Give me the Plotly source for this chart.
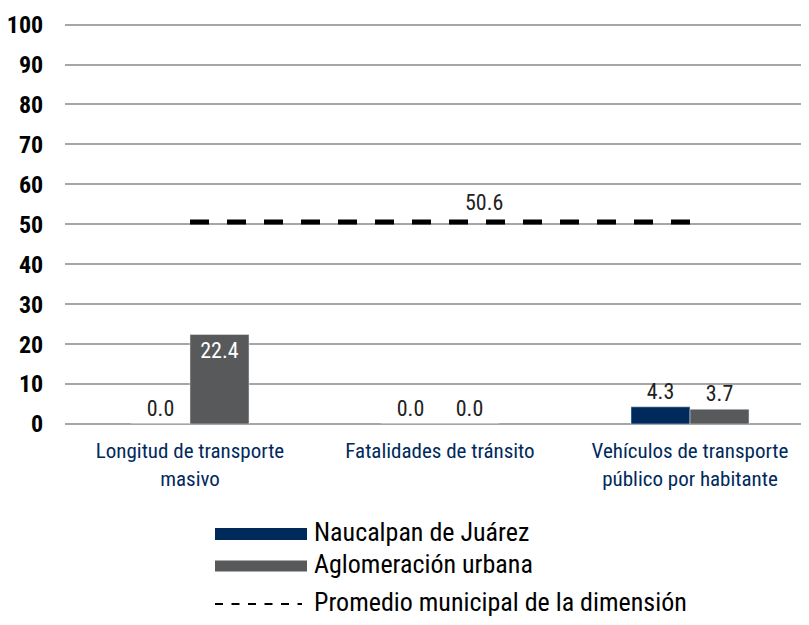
import plotly.graph_objects as go

categories = ["Longitud de transporte<br>masivo", "Fatalidades de tránsito", "Vehículos de transporte<br>público por habitante"]
naucalpan = [0.0, 0.0, 4.3]
aglomeracion = [22.4, 0.0, 3.7]
promedio = 50.6
series_names = ["Naucalpan de Juárez", "Aglomeración urbana", "Promedio municipal de la dimensión"]
y_ticks = [0, 10, 20, 30, 40, 50, 60, 70, 80, 90, 100]

NAVY = "#002a5c"
GRAY = "#58595b"
FONT = "Roboto Condensed, DejaVu Sans Condensed, sans-serif"
LBL = 22

fig = go.Figure()
fig.add_trace(go.Bar(
    x=categories, y=naucalpan, name=series_names[0], marker_color=NAVY,
    text=[f"{v:.1f}" for v in naucalpan], textposition="outside",
    textfont=dict(size=LBL, color="#222222", family=FONT), cliponaxis=False, showlegend=False,
))
fig.add_trace(go.Bar(
    x=categories, y=aglomeracion, name=series_names[1], marker_color=GRAY,
    text=[f"{v:.1f}" for v in aglomeracion],
    textposition=["inside", "outside", "outside"], insidetextanchor="end",
    insidetextfont=dict(size=LBL, color="white", family=FONT),
    outsidetextfont=dict(size=LBL, color="#222222", family=FONT),
    cliponaxis=False, showlegend=False,
))
fig.add_trace(go.Scatter(
    x=[categories[0], categories[2]], y=[promedio, promedio], mode="lines",
    line=dict(color="black", width=5, dash="19px,18px"), name=series_names[2], showlegend=False,
))
fig.add_annotation(x=categories[1], y=promedio, text=f"{promedio:.1f}", showarrow=False,
                   yanchor="bottom", xshift=44, yshift=5, font=dict(size=LBL, color="#222222", family=FONT))

# custom legend (paper coordinates; page has an 8px body margin)
PL, PW, PB, PH = 65, 744, 424, 401

def px_x(p):
    return (p - PL) / PW

def px_y(p):
    return (PB - p) / PH

legend_rows = [
    (NAVY, 534, "solid", 12, 307),
    (GRAY, 566, "solid", 11, 307),
    ("black", 604, "8px,8.5px", 2, 302),
]
for (col, yy, dash, w, xe), name in zip(legend_rows, series_names):
    fig.add_shape(type="line", xref="paper", yref="paper",
                  x0=px_x(215), x1=px_x(xe), y0=px_y(yy), y1=px_y(yy),
                  line=dict(color=col, width=w, dash=dash))
    fig.add_annotation(xref="paper", yref="paper", x=px_x(312), y=px_y(yy - 2), text=name,
                       showarrow=False, xanchor="left", yanchor="middle",
                       font=dict(size=26, color="black", family=FONT))

fig.update_layout(
    width=801, height=617,
    margin=dict(l=57, r=0, t=15, b=201),
    paper_bgcolor="white", plot_bgcolor="white",
    barmode="group", bargap=0.528, bargroupgap=0.0,
    font=dict(family=FONT),
)
fig.update_xaxes(
    range=[-0.5, 2.476], showgrid=False, showline=False, automargin=False,
    ticks="outside", ticklen=8, tickcolor="rgba(0,0,0,0)",
    tickfont=dict(size=21, color=NAVY, family=FONT),
)
fig.update_yaxes(
    range=[0, 100.4], tickvals=y_ticks, showgrid=True, gridcolor="#a6a6a6", gridwidth=1.5,
    zeroline=True, zerolinecolor="#a6a6a6", zerolinewidth=1.5, showline=False, automargin=False,
    ticks="outside", ticklen=16, tickcolor="rgba(0,0,0,0)",
    tickfont=dict(size=24, color="black", family=FONT, weight="bold"),
)

fig.write_html("out.html")
